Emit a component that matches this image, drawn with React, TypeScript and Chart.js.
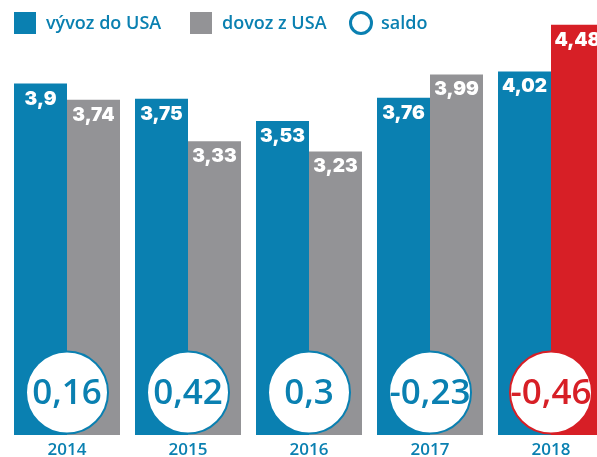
import React, { useEffect, useRef } from "react";
import { Chart, registerables } from "chart.js";

Chart.register(...registerables);

const years = ["2014", "2015", "2016", "2017", "2018"];
const exportValues = [3.9, 3.75, 3.53, 3.76, 4.02];
const importValues = [3.74, 3.33, 3.23, 3.99, 4.48];
const saldoLabels = ["0,16", "0,42", "0,3", "-0,23", "-0,46"];
const exportLabels = ["3,9", "3,75", "3,53", "3,76", "4,02"];
const importLabels = ["3,74", "3,33", "3,23", "3,99", "4,48"];
const legendLabels = ["vývoz do USA", "dovoz z USA", "saldo"];

const BLUE = "#0a80b1";
const GRAY = "#939396";
const RED = "#d71f26";

export default function App() {
  const ref = useRef<HTMLCanvasElement | null>(null);

  useEffect(() => {
    const canvas = ref.current;
    if (!canvas) return;
    const overlay = {
      id: "overlay",
      afterDatasetsDraw(chart: any) {
        const ctx = chart.ctx;
        const x = chart.scales.x;
        ctx.save();
        // value labels
        ctx.textAlign = "center";
        ctx.textBaseline = "alphabetic";
        ctx.fillStyle = "#ffffff";
        ctx.font = "900 19px Inter";
        [0, 1].forEach((di) => {
          const meta = chart.getDatasetMeta(di);
          const labels = di === 0 ? exportLabels : importLabels;
          meta.data.forEach((bar: any, i: number) => {
            ctx.fillText(labels[i], bar.x, bar.y + 21);
          });
        });
        // circles
        years.forEach((yr, i) => {
          const cx = x.getPixelForValue(i);
          const col = i === 4 ? RED : BLUE;
          ctx.beginPath();
          ctx.arc(cx, 392.5, 41, 0, Math.PI * 2);
          ctx.fillStyle = "#ffffff";
          ctx.fill();
          ctx.lineWidth = 2;
          ctx.strokeStyle = col;
          ctx.stroke();
          ctx.fillStyle = col;
          ctx.font = "600 35px 'Open Sans'";
          ctx.fillText(saldoLabels[i], cx, 404);
          ctx.fillStyle = BLUE;
          ctx.font = "600 17px 'Open Sans'";
          ctx.fillText(yr, cx, 455);
        });
        // legend
        ctx.textAlign = "left";
        ctx.fillStyle = BLUE;
        ctx.fillRect(14, 12, 22, 22);
        ctx.fillStyle = GRAY;
        ctx.fillRect(190, 12, 22, 22);
        ctx.beginPath();
        ctx.arc(361, 23, 10.5, 0, Math.PI * 2);
        ctx.lineWidth = 3;
        ctx.strokeStyle = BLUE;
        ctx.stroke();
        ctx.fillStyle = BLUE;
        ctx.font = "600 18px 'Open Sans'";
        ctx.fillText(legendLabels[0], 46, 29);
        ctx.fillText(legendLabels[1], 222, 29);
        ctx.fillText(legendLabels[2], 381, 29);
        ctx.restore();
      },
    };
    const chart = new Chart(canvas, {
      type: "bar",
      data: {
        labels: years,
        datasets: [
          {
            label: legendLabels[0],
            data: exportValues,
            backgroundColor: BLUE,
            categoryPercentage: 106 / 121,
            barPercentage: 1,
          },
          {
            label: legendLabels[1],
            data: importValues,
            backgroundColor: importValues.map((_, i) => (i === 4 ? RED : GRAY)),
            categoryPercentage: 106 / 121,
            barPercentage: 1,
          },
        ],
      },
      options: {
        responsive: false,
        animation: false,
        layout: { padding: { left: 6.5, right: 8.5, top: 0, bottom: 22 } },
        plugins: { legend: { display: false }, tooltip: { enabled: false } },
        scales: {
          x: { display: false },
          y: { display: false, min: 0.434, max: 4.724 },
        },
      },
      plugins: [overlay],
    });
    return () => chart.destroy();
  }, []);

  return (
    <div
      style={{
        position: "fixed",
        left: 0,
        top: 0,
        width: 597,
        height: 457,
        overflow: "hidden",
        background: "#ffffff",
      }}
    >
      <canvas ref={ref} width={620} height={457} style={{ display: "block" }} />
    </div>
  );
}
